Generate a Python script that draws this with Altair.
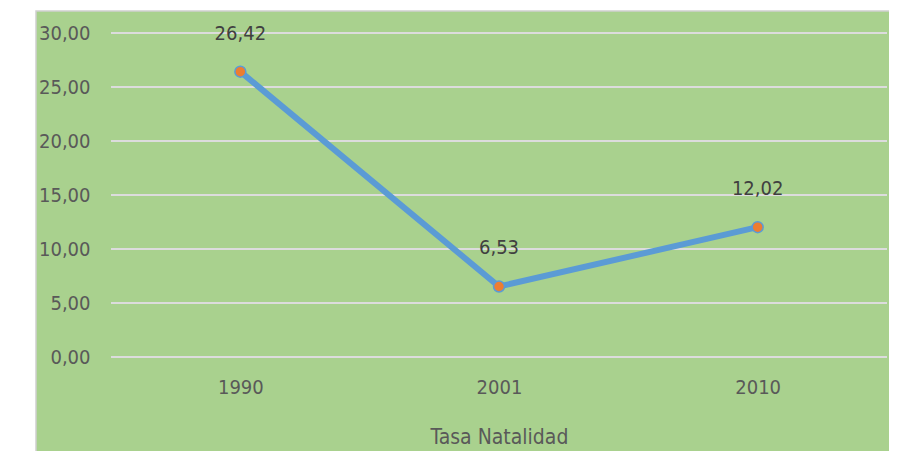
import altair as alt
import pandas as pd

years = ["1990", "2001", "2010"]
values = [26.42, 6.53, 12.02]
labels = ["26,42", "6,53", "12,02"]
grid_values = [0, 5, 10, 15, 20, 25, 30]

df = pd.DataFrame({"year": years, "value": values, "label": labels})
grid_df = pd.DataFrame({"v": grid_values})
bg_df = pd.DataFrame({"a": [0]})

FONT = "DejaVu Sans Condensed"
x_enc = alt.X("year:O", sort=years,
              scale=alt.Scale(type="point", padding=0.5),
              axis=alt.Axis(title="Tasa Natalidad", labelAngle=0, labelFontSize=20,
                            labelColor="#595959", labelPadding=20, titleFontSize=21,
                            titleColor="#595959", titleFontWeight="normal", titlePadding=29,
                            domain=False, ticks=False, grid=False, zindex=1,
                            labelFont=FONT, titleFont=FONT))
y_enc = alt.Y("value:Q", scale=alt.Scale(domain=[0, 30], nice=False),
              axis=alt.Axis(title=None, values=grid_values, grid=False, domain=False,
                            ticks=False, labelFontSize=20, labelColor="#595959",
                            labelPadding=21, zindex=1, labelFont=FONT,
                            labelExpr="replace(format(datum.value, '.2f'), '.', ',')"))

bg = alt.Chart(bg_df).mark_rect(fill="#a9d18e", stroke="#d0d0d0", strokeWidth=1.5).encode(
    x=alt.value(-75), x2=alt.value(781), y=alt.value(-22), y2=alt.value(424)
)

grid = alt.Chart(grid_df).mark_rule(color="#dcdcdc", strokeWidth=2).encode(
    y=alt.Y("v:Q", scale=alt.Scale(domain=[0, 30], nice=False))
)

line = alt.Chart(df).mark_line(color="#5b9bd5", strokeWidth=6).encode(x=x_enc, y=y_enc)
pts = alt.Chart(df).mark_point(filled=True, fill="#ed7d31", stroke="#5b9bd5",
                               strokeWidth=1.5, size=120, opacity=1).encode(x=x_enc, y=y_enc)
txt = alt.Chart(df).mark_text(dy=-38, fontSize=20, color="#404040", font=FONT,
                              baseline="middle").encode(x=x_enc, y=y_enc, text="label:N")

chart = alt.layer(bg, grid, line, pts, txt).properties(
    width=776, height=324,
    autosize=alt.AutoSizeParams(type="none"),
    padding={"left": 103, "top": 25, "right": 2, "bottom": 94},
    background="white",
).configure_view(stroke=None)

chart.save("out.html", embed_options={"renderer": "svg", "actions": False})
